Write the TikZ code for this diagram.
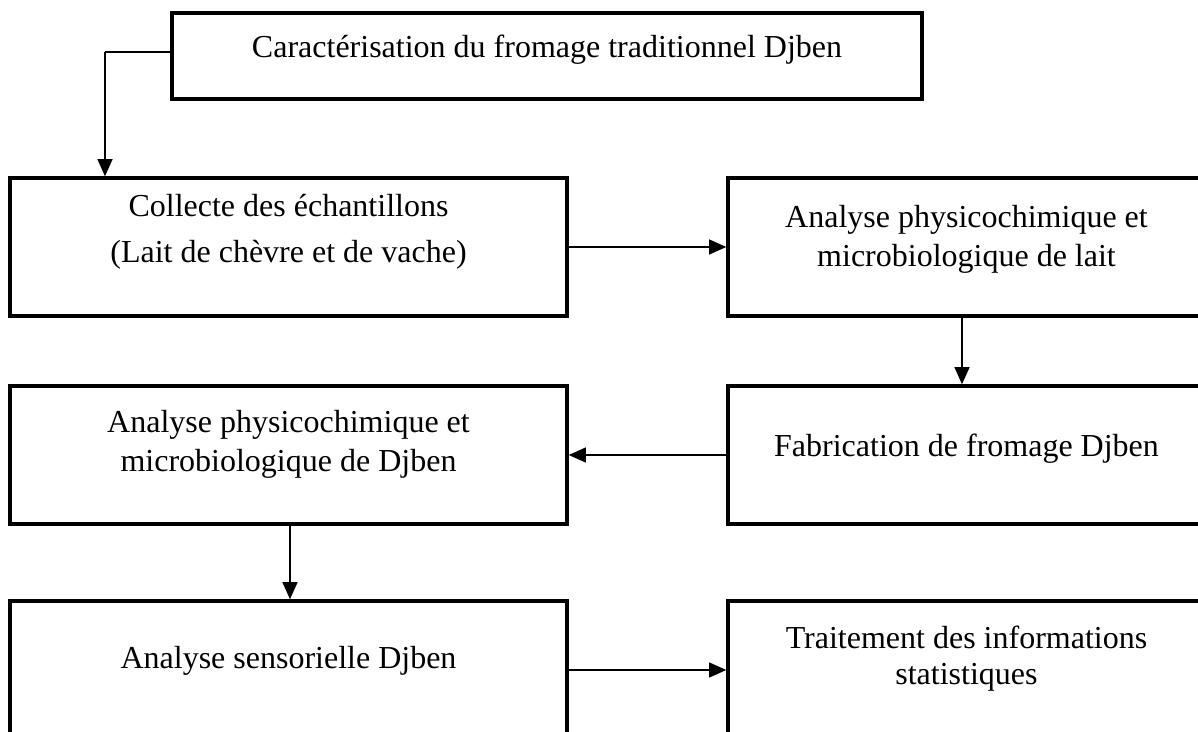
\documentclass[tikz,border=0pt]{standalone}
\usepackage{fontspec}
\setmainfont{Liberation Serif}
\usetikzlibrary{arrows.meta}
\tikzset{
	cadre/.style={draw, line width=1.2pt, inner sep=0pt},
	gauche/.style={cadre, minimum width=208.875pt, minimum height=51.75pt},
	droite/.style={cadre, minimum width=178.875pt, minimum height=51.75pt},
	texte/.style={anchor=base, align=center, inner sep=0pt, font=\fontsize{12}{14.6}\selectfont},
	fleche/.style={line width=1pt, -{Triangle[length=6.5pt,width=5.5pt]}}
}

\begin{document}
\begin{tikzpicture}[x=0.375pt, y=-0.375pt]
			\useasboundingbox (0,0) rectangle (1198,731);
			\clip (0,0) rectangle (1198,731);

			% boites
			\node[cadre, minimum width=281.25pt, minimum height=32.25pt] (titre) at (547,56) {};
			\node[gauche] (collecte) at (288.5,247) {};
			\node[droite] (lait) at (966.5,247) {};
			\node[gauche] (djben) at (288.5,455) {};
			\node[droite] (fabrication) at (966.5,455) {};
			\node[gauche] (sensorielle) at (288.5,670) {};
			\node[droite] (traitement) at (966.5,670) {};

			% textes (base = derniere ligne)
			\node[texte] (titre-t) at (547,58) {Caractérisation du fromage traditionnel Djben};
			\node[texte, font=\fontsize{12}{17}\selectfont] (collecte-t) at (288.5,262) {Collecte des échantillons\\(Lait de chèvre et de vache)};
			\node[texte] (lait-t) at (966.5,266) {Analyse physicochimique et\\microbiologique de lait};
			\node[texte] (djben-t) at (288.5,471) {Analyse physicochimique et\\microbiologique de Djben};
			\node[texte] (fabrication-t) at (966.5,456) {Fabrication de fromage Djben};
			\node[texte] (sensorielle-t) at (288.5,668) {Analyse sensorielle Djben};
			\node[texte, font=\fontsize{12}{13.5}\selectfont] (traitement-t) at (966.5,684) {Traitement des informations\\statistiques};

			% fleches
			\coordinate (coude) at (105,52);
			\draw[line width=0.5pt] (titre.west |- coude) -- (coude);
			\draw[fleche] (coude) -- (coude |- collecte.north);
			\draw[fleche] (collecte) -- (lait);
			\draw[fleche] (lait.south -| 962,0) -- (fabrication.north -| 962,0);
			\draw[fleche] (fabrication) -- (djben);
			\draw[fleche] (djben.south -| 290,0) -- (sensorielle.north -| 290,0);
			\draw[fleche] (sensorielle) -- (traitement);
		\end{tikzpicture}
\end{document}
